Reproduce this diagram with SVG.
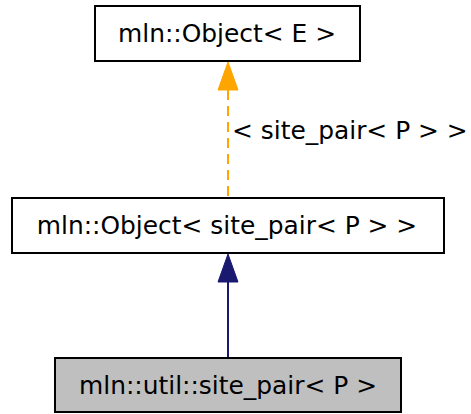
<svg xmlns="http://www.w3.org/2000/svg" width="471" height="414" viewBox="0 0 471 414">
<style>
.box{fill:#fff;stroke:#000;stroke-width:2}
.t{font-family:"DejaVu Sans",sans-serif;font-size:24.9px;fill:#000;text-anchor:middle}
</style>
<rect width="471" height="414" fill="#fff"/>
<g id="connectors">
<line x1="228" y1="90" x2="228" y2="197" stroke="#ffa500" stroke-width="2" stroke-dasharray="10,6"/>
<polygon points="228,62 218,90 238,90" fill="#ffa500" stroke="#ffa500"/>
<text class="t" x="232" y="139" style="text-anchor:start">&lt; site_pair&lt; P &gt; &gt;</text>
<line x1="228" y1="281" x2="228" y2="357" stroke="#191970" stroke-width="2"/>
<polygon points="228,254 218,282 238,282" fill="#191970" stroke="#191970"/>
</g>
<g id="node_top">
<rect class="box" x="95" y="6" width="265" height="55"/>
<text class="t" x="227" y="42">mln::Object&lt; E &gt;</text>
</g>
<g id="node_mid">
<rect class="box" x="12" y="198" width="432" height="55"/>
<text class="t" x="227" y="234">mln::Object&lt; site_pair&lt; P &gt; &gt;</text>
</g>
<g id="node_bottom">
<rect x="55" y="358" width="346" height="54" fill="#bfbfbf" stroke="#000" stroke-width="2"/>
<text class="t" x="228" y="394">mln::util::site_pair&lt; P &gt;</text>
</g>
</svg>
